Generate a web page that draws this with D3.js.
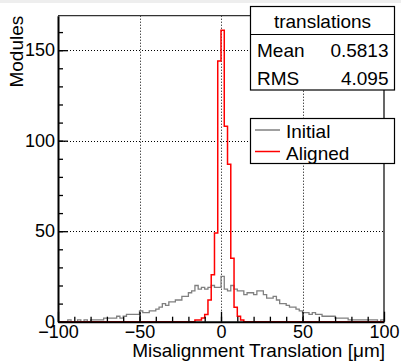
<!DOCTYPE html>
<html>
<head>
<meta charset="utf-8">
<script src="https://cdn.jsdelivr.net/npm/d3@7"></script>
<style>
    body { margin: 0; background: #fff; }
    svg text { font-family: "Liberation Sans", Arial, Helvetica, sans-serif; fill: #000; }
</style>
</head>
<body>
<div id="chart"></div>
<script>
// 100 bins of width 2 from -100 to 100
var binEdges = d3.range(-100, 100, 2);

var initialCounts = [
    0, 0, 0, 1, 0, 0, 1, 0, 1, 0,
    1, 1, 1, 1, 2, 2, 2, 2, 3, 2,
    3, 4, 4, 4, 4, 6, 5, 5, 6, 6,
    7, 8, 10, 9, 11, 11, 12, 12, 14, 14,
    16, 17, 20, 18, 19, 18, 19, 20, 19, 19,
    25, 18, 17, 20, 18, 17, 17, 15, 16, 16,
    15, 17, 17, 15, 13, 13, 14, 12, 10, 10,
    9, 8, 8, 7, 6, 5, 5, 4, 5, 4,
    4, 3, 3, 3, 3, 2, 2, 2, 2, 1,
    1, 1, 1, 1, 1, 1, 1, 1, 0, 1
];

// aligned: only the bins from -16 to 16 are filled
var alignedLow = -16;
var alignedCounts = [1, 1, 2, 4, 12, 26, 49, 144, 161, 108, 87, 35, 8, 3, 1, 0];

var xTicks = [-100, -50, 0, 50, 100],
    xMinor = d3.range(-90, 100, 10),
    yTicks = [0, 50, 100, 150],
    yMinor = d3.range(10, 170, 10);

var statsName = "translations",
    statsLabels = ["Mean", "RMS"],
    statsValues = ["0.5813", "4.095"];

var legendLabels = ["Initial", "Aligned"],
    legendColors = ["#808080", "#ff0000"];

(function () {
    "use strict";

    var width = 401,
        height = 363,
        left = 58,
        right = 384,
        top = 15.7,
        bottom = 321.7;

    var alignedFull = binEdges.map(function (e) {
        var k = (e - alignedLow) / 2;
        return (k >= 0 && k < alignedCounts.length) ? alignedCounts[k] : 0;
    });

    var x = d3.scaleLinear().domain([-100, 100]).range([left, right]);
    var y = d3.scaleLinear().domain([0, 161 * 1.05]).range([bottom, top]);

    var svg = d3.select("#chart").append("svg")
        .attr("width", width)
        .attr("height", height);

    svg.append("rect")
        .attr("x", 0).attr("y", 0)
        .attr("width", width).attr("height", 3)
        .attr("fill", "#eeeeee");

    // dotted grid
    var grid = svg.append("g")
        .attr("stroke", "#000")
        .attr("stroke-width", 1)
        .attr("stroke-dasharray", "1,2");

    grid.selectAll(".gx")
        .data(xTicks.slice(1, -1))
        .enter().append("line")
        .attr("x1", function (d) { return Math.round(x(d)) + 0.5; })
        .attr("x2", function (d) { return Math.round(x(d)) + 0.5; })
        .attr("y1", top)
        .attr("y2", bottom);

    grid.selectAll(".gy")
        .data(yTicks.slice(1))
        .enter().append("line")
        .attr("x1", left)
        .attr("x2", right)
        .attr("y1", function (d) { return Math.round(y(d)) + 0.5; })
        .attr("y2", function (d) { return Math.round(y(d)) + 0.5; });

    // step outlines
    function steps(counts) {
        var pts = [[-100, 0]];
        counts.forEach(function (c, i) {
            pts.push([binEdges[i], c]);
        });
        pts.push([100, counts[counts.length - 1]]);
        pts.push([100, 0]);
        return pts;
    }

    var line = d3.line()
        .x(function (d) { return x(d[0]); })
        .y(function (d) { return y(d[1]); })
        .curve(d3.curveStepAfter);

    svg.append("path")
        .datum(steps(initialCounts))
        .attr("fill", "none")
        .attr("stroke", legendColors[0])
        .attr("stroke-width", 1.3)
        .attr("d", line);

    svg.append("path")
        .datum(steps(alignedFull))
        .attr("fill", "none")
        .attr("stroke", legendColors[1])
        .attr("stroke-width", 1.5)
        .attr("d", line);

    // frame
    svg.append("line")
        .attr("x1", left).attr("x2", right)
        .attr("y1", top).attr("y2", top)
        .attr("stroke", "#333").attr("stroke-width", 1.3);
    svg.append("line")
        .attr("x1", right).attr("x2", right)
        .attr("y1", top).attr("y2", bottom)
        .attr("stroke", "#000").attr("stroke-width", 1.2);

    // axes
    var xAxis = svg.append("g")
        .attr("transform", "translate(0," + bottom + ")")
        .call(d3.axisBottom(x).tickValues(xTicks).tickSizeInner(-10).tickSizeOuter(0).tickPadding(3.5)
            .tickFormat(d3.format("d")));
    svg.append("g")
        .attr("transform", "translate(0," + bottom + ")")
        .call(d3.axisBottom(x).tickValues(xMinor).tickSizeInner(-5).tickSizeOuter(0).tickFormat(""))
        .select(".domain").remove();

    var yAxis = svg.append("g")
        .attr("transform", "translate(" + left + ",0)")
        .call(d3.axisLeft(y).tickValues(yTicks).tickSizeInner(-10).tickSizeOuter(0).tickPadding(3)
            .tickFormat(d3.format("d")));
    svg.append("g")
        .attr("transform", "translate(" + left + ",0)")
        .call(d3.axisLeft(y).tickValues(yMinor).tickSizeInner(-5).tickSizeOuter(0).tickFormat(""))
        .select(".domain").remove();

    svg.selectAll(".tick line").attr("stroke", "#000").attr("stroke-width", 1.3);
    [xAxis, yAxis].forEach(function (a) {
        a.select(".domain").attr("stroke", "#000").attr("stroke-width", 2);
        a.selectAll("text").attr("font-size", 18).attr("font-family", null);
    });

    // titles
    svg.append("text")
        .attr("x", right + 1)
        .attr("y", 357)
        .attr("text-anchor", "end")
        .attr("font-size", 19)
        .text("Misalignment Translation [\u03bcm]");

    svg.append("text")
        .attr("transform", "translate(23," + top + ")rotate(-90)")
        .attr("text-anchor", "end")
        .attr("font-size", 19)
        .text("Modules");

    // stats box
    var stats = svg.append("g");
    stats.append("rect")
        .attr("x", 250.5).attr("y", 6.5)
        .attr("width", 144).attr("height", 83.5)
        .attr("fill", "#fff").attr("stroke", "#000").attr("stroke-width", 1.2);
    stats.append("line")
        .attr("x1", 250.5).attr("x2", 394.5)
        .attr("y1", 34.5).attr("y2", 34.5)
        .attr("stroke", "#000").attr("stroke-width", 1.2);
    stats.append("text")
        .attr("x", 322.5).attr("y", 28)
        .attr("text-anchor", "middle")
        .attr("font-size", 19)
        .text(statsName);
    statsLabels.forEach(function (s, i) {
        stats.append("text")
            .attr("x", 257).attr("y", 57 + i * 28)
            .attr("font-size", 19)
            .text(s);
        stats.append("text")
            .attr("x", 388.5).attr("y", 57 + i * 28)
            .attr("text-anchor", "end")
            .attr("font-size", 19)
            .text(statsValues[i]);
    });

    // legend
    var legend = svg.append("g");
    legend.append("rect")
        .attr("x", 250.5).attr("y", 118.5)
        .attr("width", 144).attr("height", 45)
        .attr("fill", "#fff").attr("stroke", "#000").attr("stroke-width", 1.2);
    legendLabels.forEach(function (s, i) {
        var yy = 130 + i * 21.5;
        legend.append("line")
            .attr("x1", 255).attr("x2", 280)
            .attr("y1", yy).attr("y2", yy)
            .attr("stroke", legendColors[i])
            .attr("stroke-width", 1.5);
        legend.append("text")
            .attr("x", 286).attr("y", yy + 8)
            .attr("font-size", 19)
            .text(s);
    });
})();
</script>
</body>
</html>
